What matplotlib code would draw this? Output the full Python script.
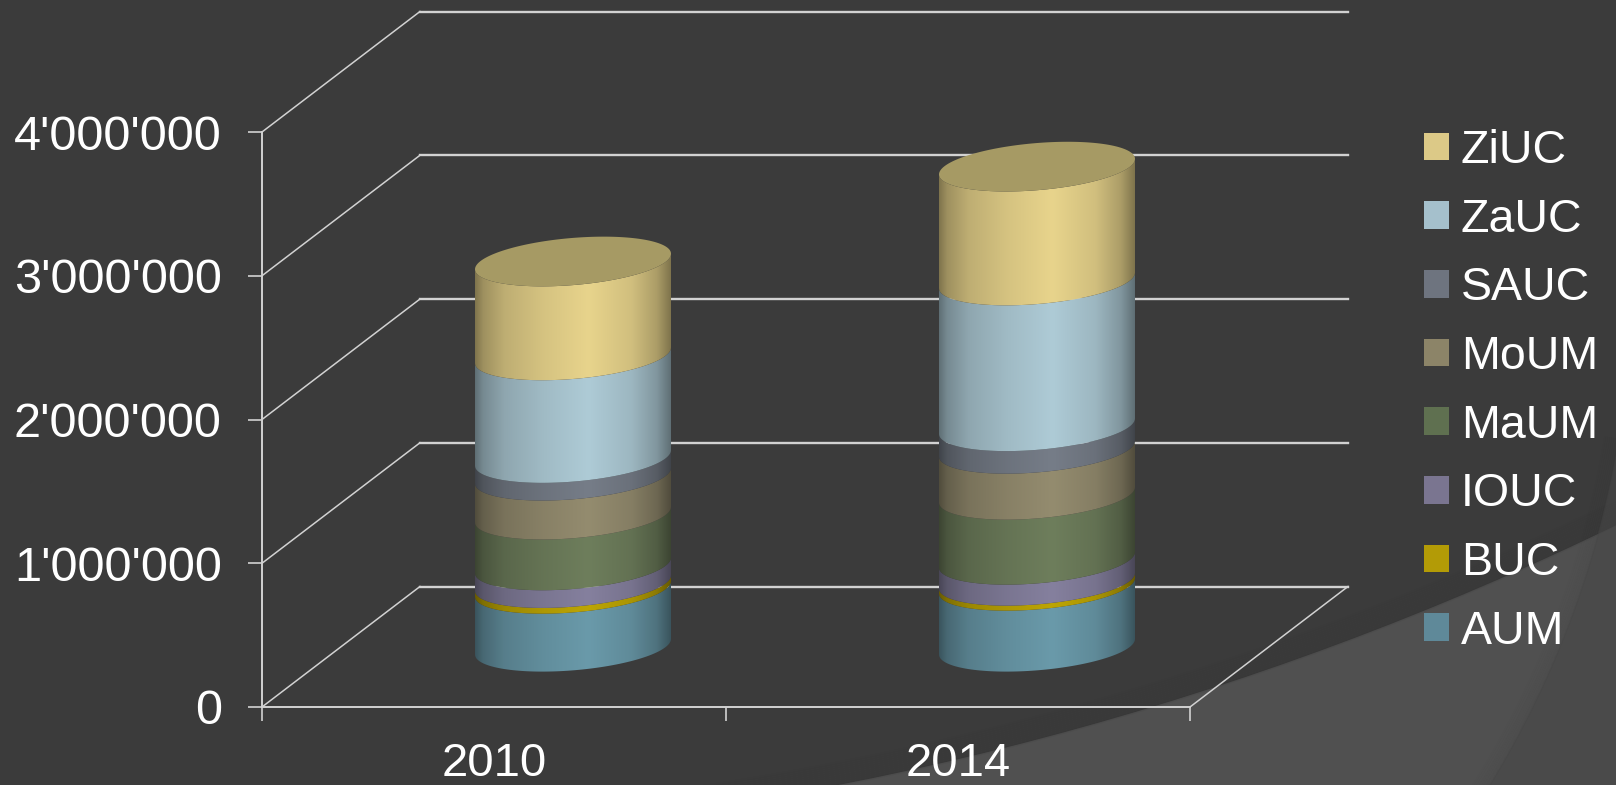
import matplotlib
matplotlib.use('Agg')
import matplotlib.pyplot as plt
from matplotlib.patches import Circle, Patch, Polygon
from matplotlib.ticker import FuncFormatter
import numpy as np

plt.rcParams['font.family'] = ['Liberation Sans', 'DejaVu Sans']

years = ['2010', '2014']
series_names = ['AUM', 'BUC', 'IOUC', 'MaUM', 'MoUM', 'SAUC', 'ZaUC', 'ZiUC']
aum = [403000, 424000]
buc = [40000, 35000]
iouc = [123000, 146000]
maum = [353000, 452000]
moum = [271000, 320000]
sauc = [123000, 157000]
zauc = [714000, 1014000]
ziuc = [653000, 792000]
y_ticks = [0, 1000000, 2000000, 3000000, 4000000]

bar_colors = ['#6A9AAA', '#BDA504', '#85809E', '#6E7E5C', '#948C6F', '#767D88', '#AECBD6', '#E8D48C']
legend_colors = ['#5F8999', '#B39B06', '#7A7590', '#5F7050', '#8C8468', '#6E747F', '#A5C0CC', '#DCC987']
TOP_COLOR = '#A69A64'
BG_DARK, BG_LIGHT, LINE_COLOR = '#3B3B3B', '#505050', '#D2D2D2'

# 3d look: how far the back wall is shifted, and the cylinder ellipse
DEPTH_X, DEPTH_Y = 158 / 464, 120.5 / 143.75 * 1e6
RAD_X = 98 / 464
RAD_Y = 23.6 / 143.75 * 1e6
TILT = 7.8 / 143.75 * 1e6

W, H = 1616, 785
fig = plt.figure(figsize=(W / 100, H / 100), dpi=100, facecolor=BG_LIGHT)

# background swoosh of the slide
bg = fig.add_axes([0, 0, 1, 1], zorder=-1)
bg.set_xlim(0, W)
bg.set_ylim(H, 0)
bg.axis('off')
bg.add_patch(Circle((229, -2334), 3178, facecolor=BG_DARK, edgecolor='none'))
for i in range(12):
    bg.add_patch(Circle((229, -2334), 3178 - i * 2, fill=False, edgecolor='#303030', lw=2, alpha=0.10 * (1 - i / 12)))
# second, fainter swoosh at the right edge
ang = np.linspace(np.arctan2(800 - 280, 1480 - 666), np.arctan2(440 - 280, 1620 - 666), 60)
swoosh = np.column_stack([666 + 966 * np.cos(ang), 280 + 966 * np.sin(ang)])
bg.add_patch(Polygon(np.vstack([swoosh, [[W + 5, 440], [W + 5, H + 15], [1480, H + 15]]]), closed=True,
                     facecolor='#474747', edgecolor='none', alpha=0.57))
for i in range(8):
    r = 966 - i * 2
    bg.plot(666 + r * np.cos(ang), 280 + r * np.sin(ang), color='#303030', lw=1.5, alpha=0.07 * (1 - i / 8))
bg.set_xlim(0, W)
bg.set_ylim(H, 0)

ax = fig.add_axes([262 / W, 1 - 707 / H, (1190 - 262) / W, (707 - 132) / H], zorder=1)
ax.patch.set_visible(False)

# walls and floor
for v in y_ticks:
    ax.plot([0, DEPTH_X], [v, v + DEPTH_Y], color=LINE_COLOR, lw=1.1, clip_on=False, zorder=1)
    ax.plot([DEPTH_X, 2 + DEPTH_X], [v + DEPTH_Y, v + DEPTH_Y], color=LINE_COLOR, lw=1.7, clip_on=False, zorder=1)
ax.plot([2, 2 + DEPTH_X], [0, DEPTH_Y], color=LINE_COLOR, lw=1.1, clip_on=False, zorder=1)


def ring(center, level, t):
    x = center + DEPTH_X / 2 + RAD_X * np.cos(t)
    y = level + DEPTH_Y / 2 + TILT * np.cos(t) - RAD_Y * np.sin(t)
    return np.column_stack([x, y])


shade_x = np.linspace(0, 1, 200)
shade = np.interp(shade_x, [0, 0.04, 0.15, 0.35, 0.58, 0.8, 0.93, 1], [0.55, 0.68, 0.82, 0.92, 1, 0.9, 0.74, 0.55])
arc = np.linspace(0, np.pi, 80)
stack = np.array([aum, buc, iouc, maum, moum, sauc, zauc, ziuc], dtype=float)
tops = np.cumsum(stack, axis=0)

for j in range(len(years)):
    center = j + 0.5
    left = center + DEPTH_X / 2 - RAD_X
    right = center + DEPTH_X / 2 + RAD_X
    for i in range(len(series_names)):
        low = tops[i - 1, j] if i > 0 else 0
        poly = np.vstack([ring(center, low, arc), ring(center, tops[i, j], arc[::-1])])
        patch = Polygon(poly, closed=True, transform=ax.transData, facecolor='none', edgecolor='none')
        ax.add_patch(patch)
        rgb = np.array(matplotlib.colors.to_rgb(bar_colors[i]))
        img = (shade[:, None] * rgb)[None, :, :]
        im = ax.imshow(img, extent=[left, right, low, tops[i, j] + DEPTH_Y], aspect='auto', zorder=3, interpolation='bilinear')
        im.set_clip_path(patch)
    full = np.linspace(0, 2 * np.pi, 160)
    ax.add_patch(Polygon(ring(center, tops[-1, j], full), closed=True, facecolor=TOP_COLOR, edgecolor='none', zorder=4, clip_on=False))

ax.set_xlim(0, 2)
ax.set_ylim(0, 4000000)
ax.set_xticks([0, 1, 2])
ax.set_xticklabels([])
ax.set_xticks([0.5, 1.5], minor=True)
ax.set_xticklabels(years, minor=True)
ax.set_yticks(y_ticks)
ax.yaxis.set_major_formatter(FuncFormatter(lambda v, p: f'{int(v):,}'.replace(',', "'")))
ax.tick_params(axis='x', which='major', length=10, width=1.2, color=LINE_COLOR)
ax.tick_params(axis='x', which='minor', length=0, pad=25, labelsize=34, labelcolor='white')
ax.tick_params(axis='y', length=10, width=1.2, color=LINE_COLOR, pad=19, labelsize=35, labelcolor='white')
for name, spine in ax.spines.items():
    spine.set_visible(name in ('left', 'bottom'))
    spine.set_color(LINE_COLOR)
    spine.set_linewidth(1.4)

handles = [Patch(facecolor=c, edgecolor='none', label=n) for c, n in zip(legend_colors, series_names)][::-1]
ax.legend(handles=handles, loc='upper left', bbox_to_anchor=(1424 / W, 1 - 129 / H), bbox_transform=fig.transFigure,
          frameon=False, fontsize=33.5, labelcolor='white', handlelength=0.54, handleheight=0.54, handletextpad=0.25,
          labelspacing=0.53, borderpad=0, borderaxespad=0)

fig.savefig('out.png', dpi=100, facecolor=fig.get_facecolor())
plt.close(fig)
